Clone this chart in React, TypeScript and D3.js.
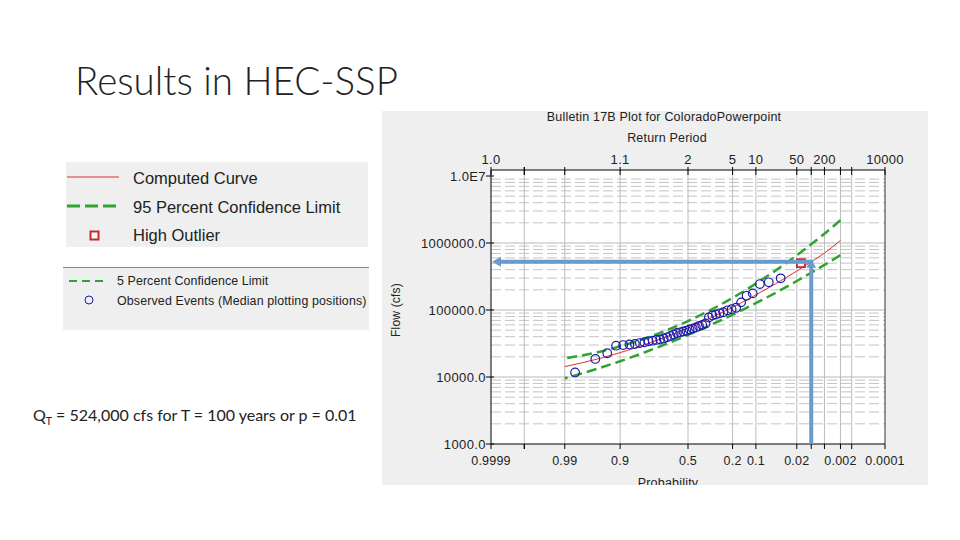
import React from 'react';
import * as d3 from 'd3';

// exceedance probabilities where the fitted curves were read
const curveProbs = [0.99, 0.95, 0.9, 0.8, 0.7, 0.5, 0.3, 0.2, 0.1, 0.05, 0.02, 0.01, 0.005, 0.002];
const computedFlow = [14300, 19100, 23100, 29900, 36800, 53800, 82800, 110000, 168000, 244000, 382000, 524000, 706000, 1090000];
const upper5Flow = [19000, 24000, 28700, 36900, 45600, 68500, 110000, 152000, 248000, 384000, 655000, 957000, 1375000, 2180000];
const lower95Flow = [9570, 13800, 17200, 22900, 28700, 42400, 64800, 85100, 127000, 179000, 271000, 361000, 471000, 658000];

// observed events (median plotting positions)
const obsProbs = [0.0401, 0.0637, 0.0873, 0.1108, 0.1344, 0.158, 0.1816, 0.2052, 0.2288, 0.2524, 0.2759, 0.2995, 0.3231, 0.3467,
  0.3703, 0.3939, 0.4175, 0.441, 0.4646, 0.4882, 0.5118, 0.5354, 0.559, 0.5825, 0.6061, 0.6297, 0.6533, 0.6769, 0.7005, 0.7241,
  0.7476, 0.7712, 0.7948, 0.8184, 0.842, 0.8656, 0.8892, 0.9127, 0.9363, 0.9599, 0.9835];
const obsFlow = [297000, 259000, 244000, 177000, 163000, 130000, 108000, 103000, 99000, 92500, 89300, 85700, 82800, 77300,
  62900, 59700, 57700, 54800, 52900, 51200, 49100, 47800, 46500, 45400, 43100, 40900, 39100, 37600, 36300, 35700,
  34800, 34100, 33000, 32100, 31100, 30600, 30000, 29300, 22600, 18600, 11700];
const outlierProb = [0.0165];
const outlierFlow = [500000];

// design event annotation
const designProb = 0.01;
const designFlow = 524000;

// axes
const flowTicks = [1e3, 1e4, 1e5, 1e6, 1e7];
const flowTickLabels = ['1000.0', '10000.0', '100000.0', '1000000.0', '1.0E7'];
const flowMinorMult = [2, 3, 4, 5, 6, 7, 8, 9];
const probTicks = [0.9999, 0.99, 0.9, 0.5, 0.2, 0.1, 0.02, 0.002, 0.0001];
const probTickLabels = ['0.9999', '0.99', '0.9', '0.5', '0.2', '0.1', '0.02', '0.002', '0.0001'];
const probGrid = [0.999, 0.99, 0.9, 0.5, 0.2, 0.1, 0.02, 0.01, 0.005, 0.002, 0.001];
const returnTicks = [0.9999, 0.9, 0.5, 0.2, 0.1, 0.02, 0.005, 0.0001];
const returnTickLabels = ['1.0', '1.1', '2', '5', '10', '50', '200', '10000'];

// inverse standard normal (Acklam)
function normInv(p: number): number {
  const a = [-39.69683028665376, 220.9460984245205, -275.9285104469687, 138.357751867269, -30.66479806614716, 2.506628277459239];
  const b = [-54.47609879822406, 161.5858368580409, -155.6989798598866, 66.80131188771972, -13.28068155288572];
  const c = [-0.007784894002430293, -0.3223964580411365, -2.400758277161838, -2.549732539343734, 4.374664141464968, 2.938163982698783];
  const d = [0.007784695709041462, 0.3224671290700398, 2.445134137142996, 3.754408661907416];
  const plow = 0.02425;
  if (p < plow) {
    const q = Math.sqrt(-2 * Math.log(p));
    return (((((c[0] * q + c[1]) * q + c[2]) * q + c[3]) * q + c[4]) * q + c[5]) /
      ((((d[0] * q + d[1]) * q + d[2]) * q + d[3]) * q + 1);
  }
  if (p > 1 - plow) {
    const q = Math.sqrt(-2 * Math.log(1 - p));
    return -(((((c[0] * q + c[1]) * q + c[2]) * q + c[3]) * q + c[4]) * q + c[5]) /
      ((((d[0] * q + d[1]) * q + d[2]) * q + d[3]) * q + 1);
  }
  const q = p - 0.5;
  const r = q * q;
  return (((((a[0] * r + a[1]) * r + a[2]) * r + a[3]) * r + a[4]) * r + a[5]) * q /
    (((((b[0] * r + b[1]) * r + b[2]) * r + b[3]) * r + b[4]) * r + 1);
}
const zOf = (exceed: number) => normInv(1 - exceed);

const CHART_FONT = '"Liberation Sans", Arial, sans-serif';
const SLIDE_FONT = 'Lato, "Open Sans", sans-serif';
const GREEN = '#2fa42f';
const RED = '#e0302c';
const BLUE_PT = '#1c1caa';
const ANNOT = '#6a9bcf';

const App: React.FC = () => {
  const left = 491, right = 885, top = 170, bottom = 444;
  const x = d3.scaleLinear().domain([zOf(0.9999), zOf(0.0001)]).range([left, right]);
  const y = d3.scaleLog().domain([1e3, 1e7]).range([bottom, 176]);
  const px = (p: number) => x(zOf(p));

  const line = d3.line<[number, number]>()
    .x(d => px(d[0]))
    .y(d => y(d[1]))
    .curve(d3.curveMonotoneX);
  const toPts = (vals: number[]) => curveProbs.map((p, i) => [p, vals[i]] as [number, number]).reverse();

  const minorFlows: number[] = [];
  flowTicks.slice(0, 4).forEach(dec => flowMinorMult.forEach(m => minorFlows.push(dec * m)));

  const topTicks = [0.999, ...probGrid, 0.9999, 0.0001];
  const dY = y(designFlow);
  const dX = px(designProb);

  return (
    <svg width={960} height={540} style={{ position: 'absolute', left: 0, top: 0, background: '#fff' }}>
      {/* slide text */}
      <text x={75} y={95} fontFamily={SLIDE_FONT} fontWeight={300} fontSize={38.5} fill="#222">Results in HEC-SSP</text>
      <text x={33} y={421} fontFamily={SLIDE_FONT} fontSize={16} fill="#222">
        Q<tspan fontSize={10.5} dy={4}>T</tspan><tspan dy={-4}> = 524,000 cfs for T = 100 years or p = 0.01</tspan>
      </text>

      {/* legend 1 */}
      <rect x={66} y={162} width={302} height={85} fill="#efefef" />
      <line x1={67} x2={119} y1={177} y2={177} stroke={RED} strokeWidth={1} />
      <text x={133} y={184} fontFamily={CHART_FONT} fontSize={16.5} fill="#222">Computed Curve</text>
      <line x1={67} x2={119} y1={206} y2={206} stroke={GREEN} strokeWidth={3} strokeDasharray="13,5" />
      <text x={133} y={213} fontFamily={CHART_FONT} fontSize={16.5} fill="#222">95 Percent Confidence Limit</text>
      <rect x={90.5} y={231.5} width={8} height={8} fill="#fff" stroke="#c42a2a" strokeWidth={2} />
      <text x={133} y={241} fontFamily={CHART_FONT} fontSize={16.5} fill="#222">High Outlier</text>

      {/* legend 2 */}
      <rect x={63} y={267} width={306} height={63} fill="#efefef" />
      <line x1={63} x2={369} y1={267.5} y2={267.5} stroke="#8a8a8a" strokeWidth={1} />
      <line x1={69} x2={106} y1={281} y2={281} stroke={GREEN} strokeWidth={2} strokeDasharray="8,5" />
      <text x={117} y={285} fontFamily={CHART_FONT} fontSize={12.4} letterSpacing={0.1} fill="#222">5 Percent Confidence Limit</text>
      <circle cx={89} cy={300} r={4} fill="none" stroke={BLUE_PT} strokeWidth={1} />
      <text x={117} y={305} fontFamily={CHART_FONT} fontSize={12.4} letterSpacing={0.15} fill="#222">Observed Events (Median plotting positions)</text>

      {/* chart panel */}
      <defs>
        <clipPath id="panel"><rect x={382} y={111} width={546} height={374} /></clipPath>
      </defs>
      <g clipPath="url(#panel)" fontFamily={CHART_FONT} fill="#222">
        <rect x={382} y={111} width={546} height={374} fill="#efefef" />
        <text x={664} y={121} fontSize={12.5} letterSpacing={0.2} textAnchor="middle">Bulletin 17B Plot for ColoradoPowerpoint</text>
        <text x={667} y={142} fontSize={12.5} letterSpacing={0.2} textAnchor="middle">Return Period</text>
        <text x={668} y={487} fontSize={12.5} letterSpacing={0.2} textAnchor="middle">Probability</text>
        <text transform={`translate(400,310) rotate(-90)`} fontSize={12} letterSpacing={0.2} textAnchor="middle">Flow (cfs)</text>

        <rect x={left} y={top} width={right - left} height={bottom - top} fill="#fff" />

        {/* grid */}
        {minorFlows.map(v => (
          <line key={'mn' + v} x1={left} x2={right} y1={y(v)} y2={y(v)} stroke="#c4c4c4" strokeWidth={1} strokeDasharray="10,4" />
        ))}
        {flowTicks.slice(1, 4).map(v => (
          <line key={'mj' + v} x1={left} x2={right} y1={y(v)} y2={y(v)} stroke="#b8b8b8" strokeWidth={1} />
        ))}
        {probGrid.map(p => (
          <line key={'vg' + p} x1={px(p)} x2={px(p)} y1={top} y2={bottom} stroke="#bdbdbd" strokeWidth={1} />
        ))}

        {/* curves */}
        <path d={line(toPts(upper5Flow)) || ''} fill="none" stroke={GREEN} strokeWidth={2.5} strokeDasharray="10,5" />
        <path d={line(toPts(lower95Flow)) || ''} fill="none" stroke={GREEN} strokeWidth={2.5} strokeDasharray="10,5" />
        <path d={line(toPts(computedFlow)) || ''} fill="none" stroke={RED} strokeWidth={1} />

        {obsProbs.map((p, i) => (
          <circle key={'o' + i} cx={px(p)} cy={y(obsFlow[i])} r={4.3} fill="none" stroke={BLUE_PT} strokeWidth={1.2} />
        ))}
        {outlierProb.map((p, i) => (
          <rect key={'hi' + i} x={px(p) - 4} y={y(outlierFlow[i]) - 4} width={8} height={8} fill="none" stroke="#c42a2a" strokeWidth={1.8} />
        ))}

        {/* frame and axes */}
        <line x1={left} x2={right} y1={top} y2={top} stroke="#000" />
        <line x1={left} x2={right} y1={bottom} y2={bottom} stroke="#000" />
        <line x1={left} x2={left} y1={top} y2={bottom} stroke="#000" />
        <line x1={right} x2={right} y1={top} y2={bottom} stroke="#333" />
        {flowTicks.map((v, i) => (
          <g key={'yt' + v}>
            <line x1={left - 5} x2={left + 3} y1={y(v)} y2={y(v)} stroke="#000" />
            <text x={left - 5} y={y(v)} dy="0.35em" textAnchor="end" fontSize={13} letterSpacing={0.4}>{flowTickLabels[i]}</text>
          </g>
        ))}
        {topTicks.map(p => (
          <line key={'tt' + p} x1={px(p)} x2={px(p)} y1={top - 3} y2={top + 5} stroke="#000" />
        ))}
        {returnTicks.map((p, i) => (
          <text key={'tl' + p} x={px(p)} y={164} textAnchor="middle" fontSize={13} letterSpacing={0.3}>{returnTickLabels[i]}</text>
        ))}
        {topTicks.map(p => (
          <line key={'bt' + p} x1={px(p)} x2={px(p)} y1={bottom} y2={bottom + 5} stroke="#000" />
        ))}
        {probTicks.map((p, i) => (
          <text key={'bl' + p} x={px(p)} y={465} textAnchor="middle" fontSize={12.5} letterSpacing={0.2}>{probTickLabels[i]}</text>
        ))}
      </g>

      {/* annotation arrows */}
      <line x1={498} x2={dX + 2} y1={dY} y2={dY} stroke={ANNOT} strokeWidth={4} />
      <path d={`M${left + 1},${dY} L${left + 10},${dY - 5} L${left + 10},${dY + 5} Z`} fill={ANNOT} />
      <line x1={dX} x2={dX} y1={dY + 4} y2={bottom} stroke={ANNOT} strokeWidth={4} />
      <path d={`M${dX},${dY - 2} L${dX + 5},${dY + 6} L${dX - 5},${dY + 6} Z`} fill={ANNOT} />
    </svg>
  );
};

export default App;
